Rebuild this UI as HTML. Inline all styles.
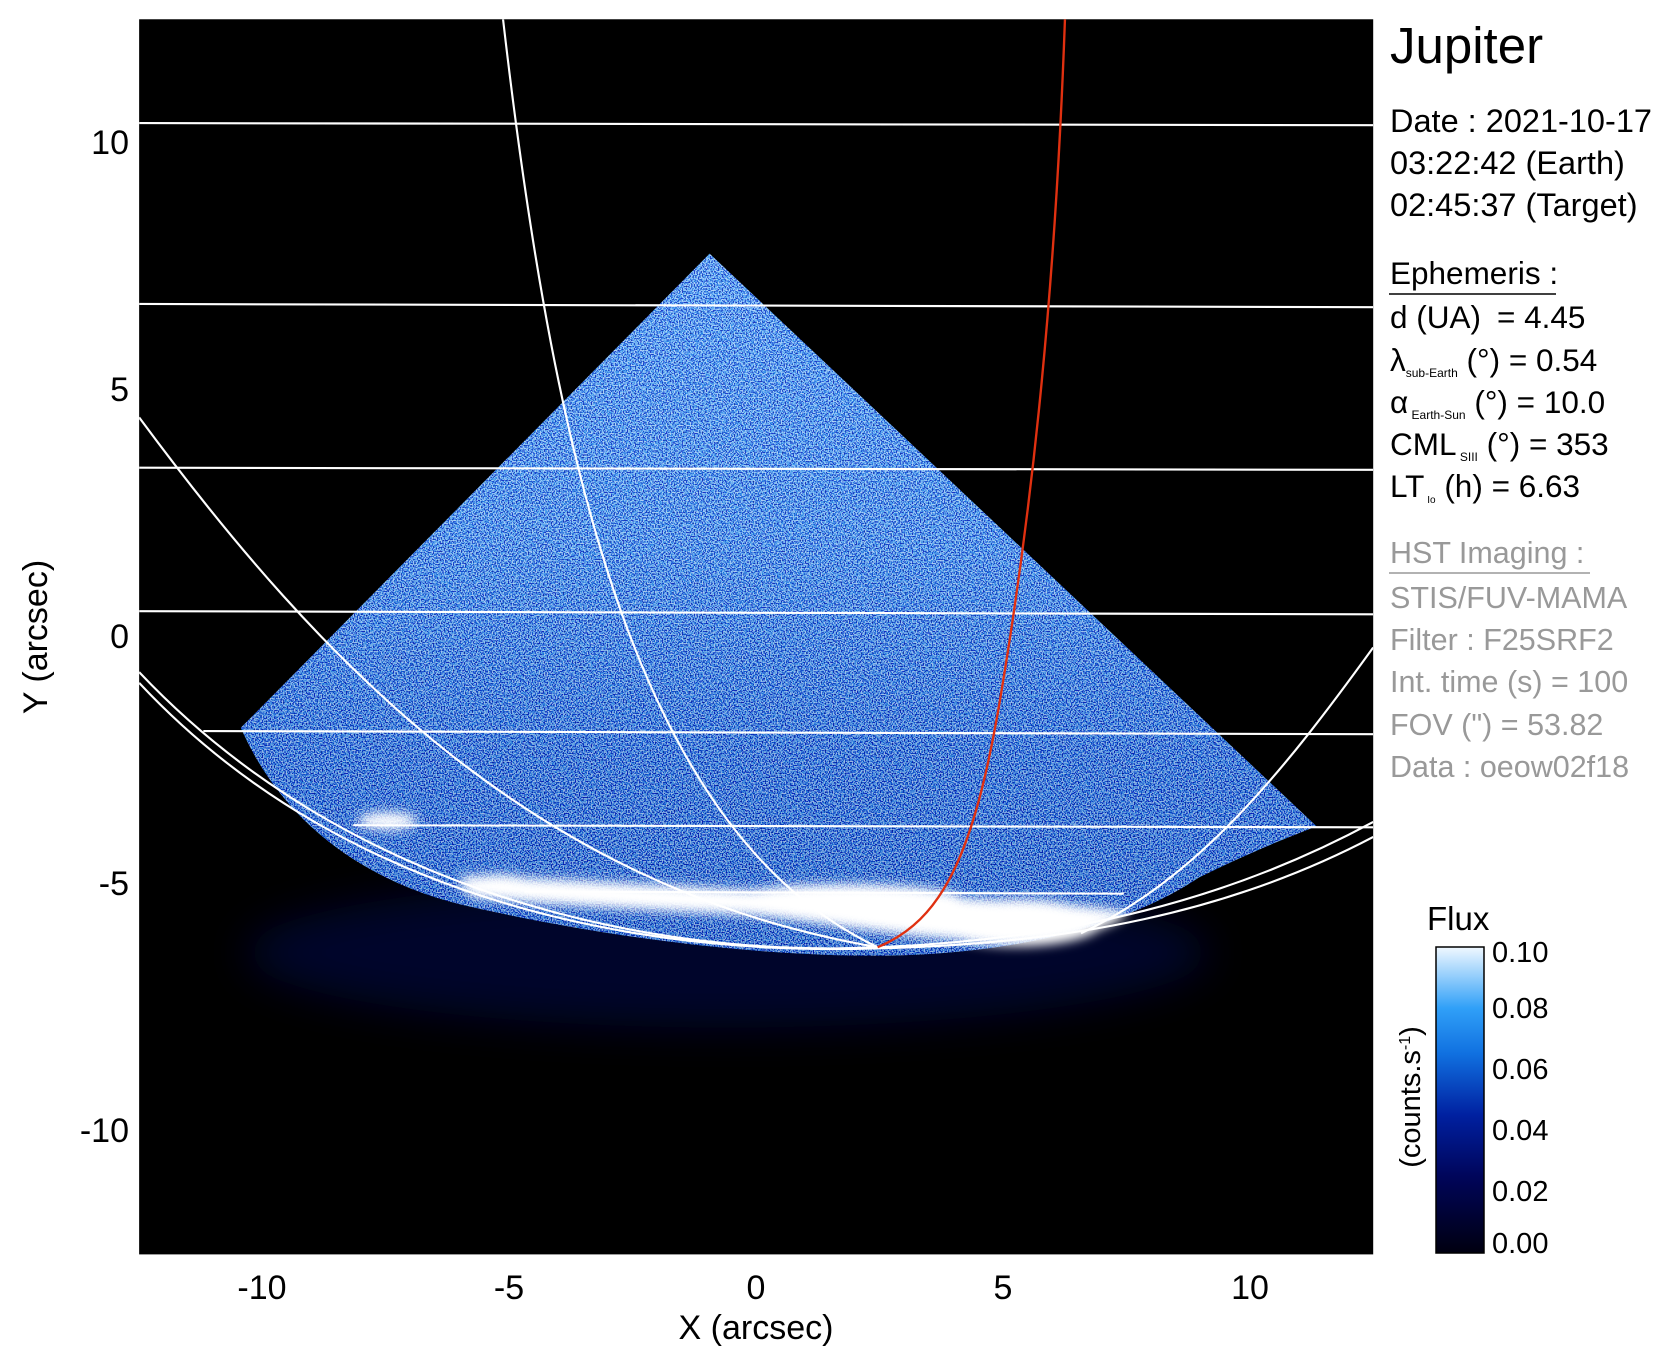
<!DOCTYPE html>
<html><head><meta charset="utf-8"><style>
html,body{margin:0;padding:0;background:#fff;}
svg{display:block;}
text{font-family:"Liberation Sans",sans-serif;white-space:pre;}
</style></head><body>
<svg width="1677" height="1367" viewBox="0 0 1677 1367" xmlns="http://www.w3.org/2000/svg">
<defs>
<filter id="noise" x="0" y="0" width="100%" height="100%">
<feTurbulence type="fractalNoise" baseFrequency="0.8" numOctaves="1" seed="3"/>
<feColorMatrix type="matrix" values="0 0 0 4.5 -2.1  0 0 0 4.5 -1.8  0 0 0 3 -0.6  0 0 0 0 1"/>
</filter>
<linearGradient id="tri" x1="0" y1="0" x2="0" y2="1">
<stop offset="0" stop-color="#5a9af0"/>
<stop offset="0.4" stop-color="#4585e0"/>
<stop offset="0.7" stop-color="#1c50bc"/>
<stop offset="1" stop-color="#123ea8"/>
</linearGradient>
<linearGradient id="cb" x1="0" y1="1" x2="0" y2="0">
<stop offset="0" stop-color="#000010"/>
<stop offset="0.25" stop-color="#00055a"/>
<stop offset="0.45" stop-color="#0020a0"/>
<stop offset="0.65" stop-color="#1070e0"/>
<stop offset="0.8" stop-color="#30a0f8"/>
<stop offset="1" stop-color="#f0f8ff"/>
</linearGradient>
<clipPath id="plot"><rect x="130" y="18" width="1153" height="1154"/></clipPath>
<clipPath id="triclip"><path d="M663,237 L225,680 C260,760 330,820 430,845 C560,875 700,893 820,893 C960,892 1060,860 1120,820 C1170,795 1210,780 1230,772 Z"/></clipPath>
<filter id="blur4" x="-50%" y="-50%" width="200%" height="200%"><feGaussianBlur stdDeviation="5"/></filter>
<filter id="blur10" x="-50%" y="-50%" width="200%" height="200%"><feGaussianBlur stdDeviation="20"/></filter>
</defs>
<g transform="scale(1.0703)">
<rect x="130" y="18" width="1153" height="1154" fill="#000"/>
<g clip-path="url(#plot)">
<ellipse cx="680" cy="890" rx="450" ry="70" fill="#061060" opacity="0.45" filter="url(#blur10)"/>
<g clip-path="url(#triclip)">
<rect x="200" y="230" width="1050" height="680" fill="url(#tri)"/>
<rect x="200" y="230" width="1050" height="680" filter="url(#noise)" opacity="0.6"/>
</g>
<g filter="url(#blur4)" fill="#fff">
<ellipse cx="362" cy="767" rx="28" ry="8"/>
<ellipse cx="465" cy="827" rx="35" ry="10"/>
<path d="M430,818 C520,820 650,830 780,835 C900,838 1000,842 1055,852 C1040,870 980,885 930,880 C850,878 760,860 700,855 C600,850 500,845 440,838 Z"/>
<ellipse cx="950" cy="862" rx="80" ry="22"/>
<ellipse cx="790" cy="840" rx="110" ry="14"/>
</g>
<g fill="none" stroke="#fff" stroke-width="2">
<path d="M130,115 L1283,117"/>
<path d="M130,284 L1283,287"/>
<path d="M130,437 L1283,439"/>
<path d="M130,571 L1283,574"/>
<path d="M190,683 L1283,686"/>
<path d="M330,771 L1283,773"/>
<path d="M490,833 L1050,835"/>
<path d="M130,628 C330,840 620,895 820,885 C1000,878 1150,840 1283,768"/>
<path d="M130,638 C330,852 620,893 820,886 C1000,882 1150,852 1283,782"/>
<path d="M130,390 C300,620 500,830 820,885"/>
<path d="M470,18 C520,450 600,780 820,885"/>
<path d="M1283,605 C1200,720 1120,820 1010,872"/>
</g>
<path d="M995,18 C985,300 960,500 935,650 C910,800 880,860 820,885" fill="none" stroke="#e03010" stroke-width="2.2"/>
</g>
</g>
<g font-size="34" fill="#000" text-anchor="end">
<text x="129" y="154">10</text>
<text x="129" y="401">5</text>
<text x="129" y="648">0</text>
<text x="129" y="895">-5</text>
<text x="129" y="1142">-10</text>
</g>
<g font-size="34" fill="#000" text-anchor="middle">
<text x="262" y="1299">-10</text>
<text x="509" y="1299">-5</text>
<text x="756" y="1299">0</text>
<text x="1003" y="1299">5</text>
<text x="1250" y="1299">10</text>
<text x="756" y="1339">X (arcsec)</text>
<text transform="translate(47,637) rotate(-90)">Y (arcsec)</text>
</g>
<g fill="#000">
<text x="1390" y="63" font-size="51">Jupiter</text>
<text x="1390" y="132" font-size="32.5">Date : 2021-10-17</text>
<text x="1390" y="174" font-size="32.5">03:22:42 (Earth)</text>
<text x="1390" y="216" font-size="32.5">02:45:37 (Target)</text>
<text x="1390" y="284" font-size="31.5">Ephemeris :</text>
<line x1="1389" y1="294" x2="1556" y2="294" stroke="#000" stroke-width="1.5"/>
<text x="1390" y="328" font-size="31.5">d (UA)</text>
<text x="1497" y="328" font-size="31.5">= 4.45</text>
<text x="1390" y="371" font-size="31.5">λ<tspan font-size="12" dy="6">sub-Earth</tspan><tspan dy="-6"> (°) = 0.54</tspan></text>
<text x="1390" y="413" font-size="31.5">α<tspan font-size="12" dy="6"> Earth-Sun</tspan><tspan dy="-6"> (°) = 10.0</tspan></text>
<text x="1390" y="455" font-size="31.5">CML<tspan font-size="12" dy="6"> SIII</tspan><tspan dy="-6"> (°) = 353</tspan></text>
<text x="1390" y="497" font-size="31.5">LT<tspan font-size="10" dy="6"> Io</tspan><tspan dy="-6"> (h) = 6.63</tspan></text>
</g>
<g fill="#999" font-size="30.5">
<text x="1390" y="563">HST Imaging :</text>
<line x1="1389" y1="573" x2="1590" y2="573" stroke="#999" stroke-width="1.5"/>
<text x="1390" y="608">STIS/FUV-MAMA</text>
<text x="1390" y="650">Filter : F25SRF2</text>
<text x="1390" y="692">Int. time (s) = 100</text>
<text x="1390" y="735">FOV (") = 53.82</text>
<text x="1390" y="777">Data : oeow02f18</text>
</g>
<text x="1427" y="930" font-size="33">Flux</text>
<rect x="1436" y="947" width="48" height="306" fill="url(#cb)" stroke="#000" stroke-width="1.5"/>
<g font-size="29" fill="#000">
<text x="1492" y="962">0.10</text>
<text x="1492" y="1018">0.08</text>
<text x="1492" y="1079">0.06</text>
<text x="1492" y="1140">0.04</text>
<text x="1492" y="1201">0.02</text>
<text x="1492" y="1253">0.00</text>
<text transform="translate(1420,1097) rotate(-90)" text-anchor="middle">(counts.s<tspan font-size="16" dy="-10">-1</tspan><tspan dy="10">)</tspan></text>
</g>
</svg>
</body></html>
